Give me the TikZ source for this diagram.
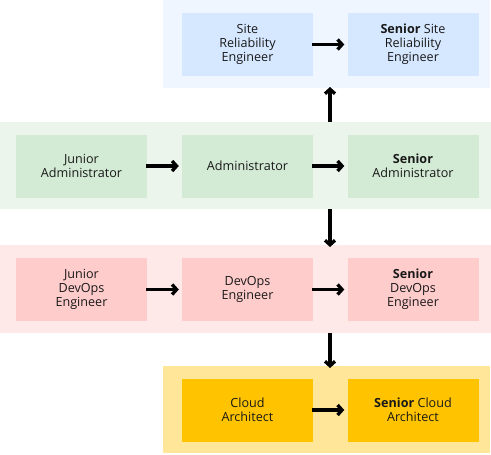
\documentclass[tikz,border=0pt]{standalone}
\usepackage{fontspec}
\setmainfont{Open Sans}
\usetikzlibrary{arrows.meta}
\definecolor{bandblue}{RGB}{239,246,255}
\definecolor{boxblue}{RGB}{214,232,255}
\definecolor{bandgreen}{RGB}{235,245,236}
\definecolor{boxgreen}{RGB}{211,234,213}
\definecolor{bandred}{RGB}{255,232,232}
\definecolor{boxred}{RGB}{255,204,204}
\definecolor{bandyellow}{RGB}{255,230,153}
\definecolor{boxyellow}{RGB}{255,195,0}
\tikzset{
  role/.style={minimum width=131pt, minimum height=63pt, inner sep=0pt, align=center,
    font=\fontsize{12.6}{14}\selectfont, text=black!90},
  flow/.style={line width=3.3pt, -{Straight Barb[length=4.5pt,width=10pt]}}
}
\begin{document}
\begin{tikzpicture}[x=1pt,y=-1pt]
\useasboundingbox (0,0) rectangle (491,455);
% bands
\fill[bandblue] (163,0) rectangle (490,88);
\fill[bandgreen] (0,122) rectangle (491,209);
\fill[bandred] (0,245) rectangle (491,333);
\fill[bandyellow] (163,366) rectangle (490,453);
\coordinate (bb) at (330,88);
\coordinate (gt) at (330,122);
\coordinate (gb) at (330,209);
\coordinate (rt) at (330,245);
\coordinate (rb) at (330,333);
\coordinate (yt) at (330,366);
% blue row
\node[role, fill=boxblue] (sre) at (247.5,44.5) {Site\\Reliability\\Engineer};
\node[role, fill=boxblue] (ssre) at (413,44.5) {\textbf{Senior} Site\\Reliability\\Engineer};
% green row
\node[role, fill=boxgreen] (jadm) at (81.5,166) {Junior\\Administrator};
\node[role, fill=boxgreen] (adm) at (247.5,166) {Administrator};
\node[role, fill=boxgreen] (sadm) at (413,166) {\textbf{Senior}\\Administrator};
% red row
\node[role, fill=boxred] (jdev) at (81.5,289.5) {Junior\\DevOps\\Engineer};
\node[role, fill=boxred] (dev) at (247.5,289.5) {DevOps\\Engineer};
\node[role, fill=boxred] (sdev) at (413,289.5) {\textbf{Senior}\\DevOps\\Engineer};
% yellow row
\node[role, fill=boxyellow] (ca) at (247.5,410) {Cloud\\Architect};
\node[role, fill=boxyellow] (sca) at (413,410) {\textbf{Senior} Cloud\\Architect};
% horizontal arrows
\draw[flow] ([xshift=-1pt]sre.east) -- ([xshift=-3pt]ssre.west);
\draw[flow] ([xshift=-1pt]jadm.east) -- ([xshift=-3pt]adm.west);
\draw[flow] ([xshift=-1pt]adm.east) -- ([xshift=-3pt]sadm.west);
\draw[flow] ([xshift=-1pt]jdev.east) -- ([xshift=-3pt]dev.west);
\draw[flow] ([xshift=-1pt]dev.east) -- ([xshift=-3pt]sdev.west);
\draw[flow] ([xshift=-1pt]ca.east) -- ([xshift=-3pt]sca.west);
% vertical arrows
\draw[flow] (gt) -- ([yshift=1pt]bb);
\draw[flow] (gb) -- ([yshift=-2pt]rt);
\draw[flow] (rb) -- ([yshift=-2pt]yt);
\end{tikzpicture}
\end{document}
